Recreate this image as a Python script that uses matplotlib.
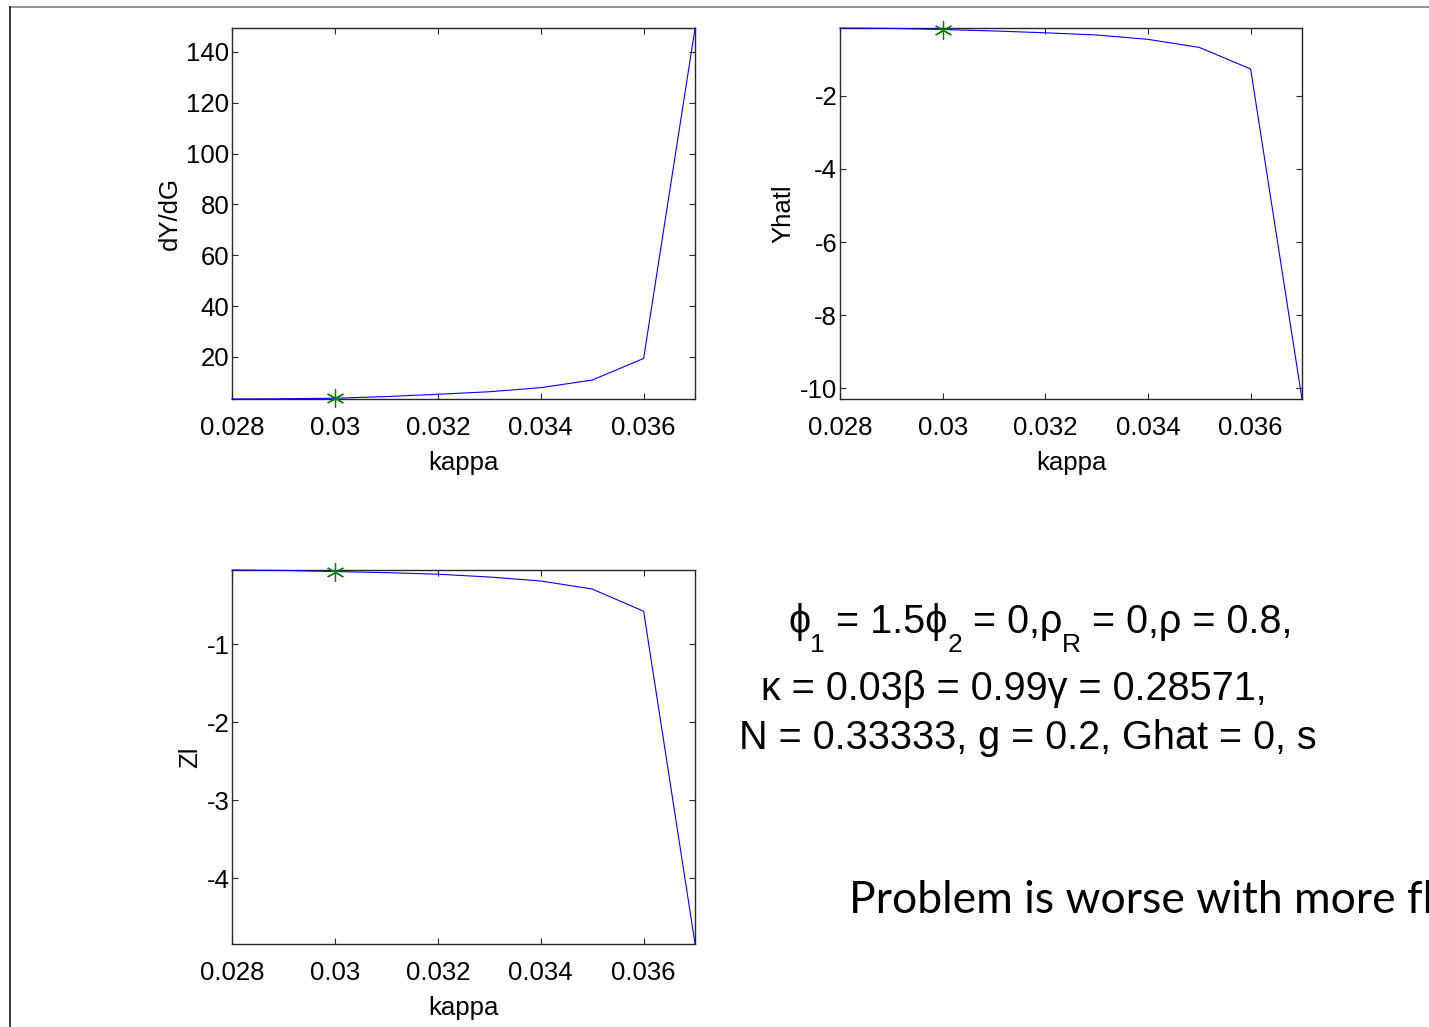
import matplotlib
matplotlib.use('Agg')
import matplotlib.pyplot as plt
from matplotlib.lines import Line2D

plt.rcParams['font.family'] = ['Liberation Sans', 'DejaVu Sans']

# data
kappa = [0.028, 0.029, 0.030, 0.031, 0.032, 0.033, 0.034, 0.035, 0.036, 0.037]
dYdG = [3.45, 3.55, 3.75, 4.4, 5.3, 6.3, 7.9, 10.9, 19.4, 149.4]
Yhatl = [-0.15, -0.16, -0.19, -0.23, -0.28, -0.34, -0.46, -0.68, -1.27, -10.29]
Zl = [-0.046, -0.052, -0.066, -0.08, -0.10, -0.136, -0.187, -0.29, -0.575, -4.84]
kappa_star = 0.030
xticks = [0.028, 0.030, 0.032, 0.034, 0.036]
xticklabels = ['0.028', '0.03', '0.032', '0.034', '0.036']
yticks1 = [20, 40, 60, 80, 100, 120, 140]
yticks2 = [-10, -8, -6, -4, -2]
yticks3 = [-4, -3, -2, -1]

# first text line: (text, is_subscript)
line1 = [('ϕ', False), ('1', True), (' = 1.5ϕ', False), ('2', True),
         (' = 0,ρ', False), ('R', True), (' = 0,ρ = 0.8,', False)]
line2 = 'κ = 0.03β = 0.99γ = 0.28571,'
line3 = 'N = 0.33333, g = 0.2, Ghat = 0, s'
note = 'Problem is worse with more fl'

W, H = 1429, 1027
fig = plt.figure(figsize=(W / 100, H / 100), dpi=100)

ax1 = fig.add_axes([0.1624, 0.6115, 0.324, 0.3612])
ax2 = fig.add_axes([0.5878, 0.6115, 0.3233, 0.3612])
ax3 = fig.add_axes([0.1624, 0.0808, 0.324, 0.3642])

panels = [
    (ax1, dYdG, 'dY/dG', yticks1),
    (ax2, Yhatl, 'Yhatl', yticks2),
    (ax3, Zl, 'Zl', yticks3),
]

for ax, y, lab, yt in panels:
    ax.plot(kappa, y, color='b', lw=0.8, zorder=3, clip_on=False)
    ystar = y[kappa.index(kappa_star)]
    ax.plot([kappa_star], [ystar], linestyle='none', marker=(6, 2, 0),
            ms=13, mew=0.9, color=(0, 0.5, 0), zorder=4, clip_on=False)
    ax.set_xlim(kappa[0], kappa[-1])
    ax.set_ylim(min(y), max(y))
    ax.set_xticks(xticks)
    ax.set_xticklabels(xticklabels)
    ax.set_yticks(yt)
    ax.set_yticklabels([str(v) for v in yt])
    ax.tick_params(direction='in', top=True, right=True, length=4, width=0.8,
                   labelsize=18.5, color='#262626')
    ax.tick_params(axis='x', pad=12)
    ax.tick_params(axis='y', pad=2)
    ax.set_xlabel('kappa', fontsize=18.5, labelpad=8)
    ax.set_ylabel(lab, fontsize=18.5, labelpad=3)
    for s in ax.spines.values():
        s.set_linewidth(1.0)
        s.set_color('#262626')

# parameter text, first line built piece by piece (big, dropped subscripts)
renderer = fig.canvas.get_renderer()
main_fs, sub_fs = 28.5, 19
space_px = 0.278 * main_fs * 100 / 72
xpos, base, drop = 788, 633, 19
for txt, sub in line1:
    lead = len(txt) - len(txt.lstrip(' '))
    xpos += lead * space_px
    txt = txt.strip(' ')
    ybase = base + drop if sub else base
    t = fig.text(xpos / W, 1 - ybase / H, txt, ha='left', va='baseline',
                 fontsize=sub_fs if sub else main_fs)
    xpos += t.get_window_extent(renderer).width

fig.text(1014 / W, 1 - 700 / H, line2, ha='center', va='baseline', fontsize=main_fs)
fig.text(1028 / W, 1 - 749 / H, line3, ha='center', va='baseline', fontsize=main_fs)

fig.text(849 / W, 1 - 913 / H, note, ha='left', va='baseline', fontsize=32,
         family=['Lato', 'DejaVu Sans'])

# slide border
fig.add_artist(Line2D([10 / W, 1], [1 - 7 / H, 1 - 7 / H],
                      transform=fig.transFigure, color='#808080', lw=1.2))
fig.add_artist(Line2D([10 / W, 10 / W], [0, 1 - 7 / H],
                      transform=fig.transFigure, color='#1a1a1a', lw=1.2))

fig.savefig('out.png', dpi=100)
